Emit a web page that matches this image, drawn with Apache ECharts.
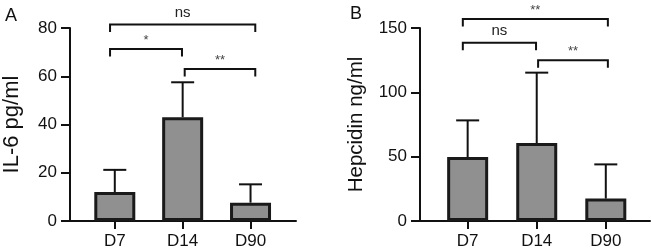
<!DOCTYPE html>
<html>
<head>
<meta charset="utf-8">
<script src="https://cdn.jsdelivr.net/npm/echarts@6/dist/echarts.min.js"></script>
<style>html,body{margin:0;padding:0;background:#fff}#c{width:651px;height:250px}</style>
</head>
<body>
<div id="c"></div>
<script>
var categories = ['D7', 'D14', 'D90'];
var il6Mean = [12, 43, 7.6];
var il6ErrTop = [21.2, 57.5, 15.2];
var hepMean = [49.7, 60.6, 17.4];
var hepErrTop = [78.2, 115.3, 44];
var il6Ticks = [0, 20, 40, 60, 80];
var hepTicks = [0, 50, 100, 150];
// brackets: [from x, to x, height]
var il6Brackets = [[-0.07, 2.07, 81.5], [-0.07, 0.99, 71.3], [1.03, 2.07, 63]];
var il6BracketText = ['ns', '*', '**'];
var hepBrackets = [[-0.07, 2.03, 157], [-0.07, 0.99, 138.5], [1.02, 2.03, 125]];
var hepBracketText = ['**', 'ns', '**'];

var FONT = 'Liberation Sans, Arial, Helvetica, sans-serif';
var chart = echarts.init(document.getElementById('c'), null, {renderer: 'canvas'});

function xAxisDef(gi, min, max) {
  return {
    type: 'value', gridIndex: gi, min: min, max: max,
    splitLine: {show: false},
    axisLine: {onZero: false, lineStyle: {color: '#111', width: 2}},
    axisTick: {customValues: [0, 1, 2], length: 8, lineStyle: {color: '#111', width: 2}},
    axisLabel: {customValues: [0, 1, 2], formatter: function (v) { return categories[Math.round(v)]; },
      fontSize: 17, color: '#111', fontFamily: FONT, margin: 12}
  };
}
function yAxisDef(gi, ticks, name, gap, nameSize) {
  return {
    type: 'value', gridIndex: gi, min: ticks[0], max: ticks[ticks.length - 1],
    interval: ticks[1] - ticks[0],
    name: name, nameLocation: 'middle', nameGap: gap,
    nameTextStyle: {fontSize: nameSize, color: '#111', fontFamily: FONT},
    splitLine: {show: false},
    axisLine: {show: true, onZero: false, lineStyle: {color: '#111', width: 2}},
    axisTick: {show: true, length: 9, lineStyle: {color: '#111', width: 2}},
    axisLabel: {fontSize: 17, color: '#111', fontFamily: FONT, margin: 13}
  };
}
function barSeries(gi, vals) {
  return {
    type: 'bar', xAxisIndex: gi, yAxisIndex: gi, barWidth: 41, z: 3,
    data: vals.map(function (v, i) { return [i, v]; }),
    itemStyle: {color: '#909090', borderColor: '#1a1a1a', borderWidth: 3}
  };
}
function errSeries(gi, means, tops) {
  return {
    type: 'custom', xAxisIndex: gi, yAxisIndex: gi, z: 2, clip: false,
    data: means.map(function (m, i) { return [i, m, tops[i]]; }),
    renderItem: function (params, api) {
      var b = api.coord([api.value(0), api.value(1)]);
      var t = api.coord([api.value(0), api.value(2)]);
      var st = {stroke: '#111', lineWidth: 2};
      return {type: 'group', children: [
        {type: 'line', shape: {x1: b[0], y1: b[1], x2: t[0], y2: t[1]}, style: st},
        {type: 'line', shape: {x1: t[0] - 11.5, y1: t[1], x2: t[0] + 11.5, y2: t[1]}, style: st}
      ]};
    }
  };
}
function bracketSeries(gi, br, texts) {
  return {
    type: 'custom', xAxisIndex: gi, yAxisIndex: gi, z: 5, clip: false,
    data: br,
    renderItem: function (params, api) {
      var a = api.coord([api.value(0), api.value(2)]);
      var b = api.coord([api.value(1), api.value(2)]);
      var txt = texts[params.dataIndex];
      var isNs = txt === 'ns';
      return {type: 'group', children: [
        {type: 'polyline', shape: {points: [[a[0], a[1] + 7.5], [a[0], a[1]], [b[0], b[1]], [b[0], b[1] + 7.5]]},
          style: {stroke: '#111', lineWidth: 2, fill: null}},
        {type: 'text', x: (a[0] + b[0]) / 2, y: a[1] - (isNs ? 4 : 2),
          style: {text: txt, align: 'center', verticalAlign: 'bottom',
            font: (isNs ? '15px ' : '13px ') + FONT, fill: isNs ? '#222' : '#444'}}
      ]};
    }
  };
}

chart.setOption({
  animation: false,
  backgroundColor: '#fff',
  textStyle: {fontFamily: FONT},
  title: [
    {text: 'A', left: 0, top: 2, textStyle: {fontSize: 18, fontWeight: 'normal', color: '#111', fontFamily: FONT}},
    {text: 'B', left: 345, top: 0, textStyle: {fontSize: 18, fontWeight: 'normal', color: '#111', fontFamily: FONT}}
  ],
  grid: [
    {left: 67.5, right: 355, top: 28, bottom: 29},
    {left: 420, right: 1, top: 28, bottom: 29}
  ],
  xAxis: [xAxisDef(0, -0.66, 2.67), xAxisDef(1, -0.69, 2.64)],
  yAxis: [yAxisDef(0, il6Ticks, 'IL-6 pg/ml', 47, 22), yAxisDef(1, hepTicks, 'Hepcidin ng/ml', 53, 20.5)],
  series: [
    errSeries(0, il6Mean, il6ErrTop), barSeries(0, il6Mean), bracketSeries(0, il6Brackets, il6BracketText),
    errSeries(1, hepMean, hepErrTop), barSeries(1, hepMean), bracketSeries(1, hepBrackets, hepBracketText)
  ]
});
</script>
</body>
</html>
